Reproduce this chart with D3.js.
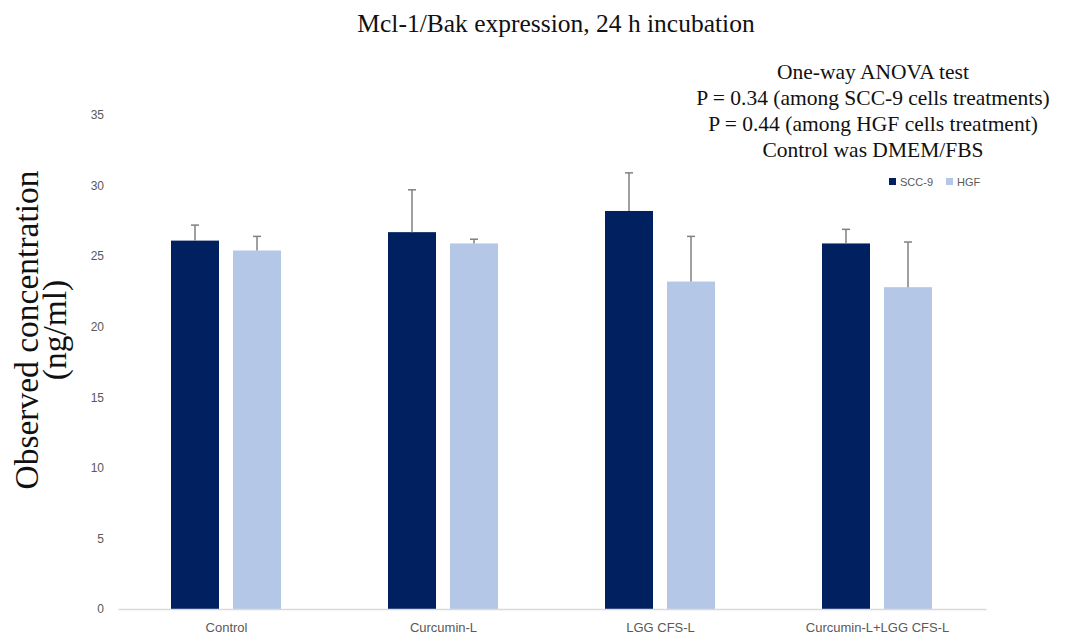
<!DOCTYPE html>
<html>
<head>
<meta charset="utf-8">
<script src="https://cdn.jsdelivr.net/npm/d3@7"></script>
<style>
  html, body { margin: 0; padding: 0; background: #fff; }
  svg { display: block; }
</style>
</head>
<body>
<svg id="chart" width="1065" height="635"></svg>
<script>
// Treatment groups and measured means / upper error values (ng/ml)
const categories = ["Control", "Curcumin-L", "LGG CFS-L", "Curcumin-L+LGG CFS-L"];
const seriesNames = ["SCC-9", "HGF"];
const scc9Values = [26.1, 26.7, 28.2, 25.9];
const scc9Errors = [1.1, 3.0, 2.7, 1.0];
const hgfValues = [25.4, 25.9, 23.2, 22.8];
const hgfErrors = [1.0, 0.3, 3.2, 3.2];
const yTicks = [0, 5, 10, 15, 20, 25, 30, 35];
const annotationLines = [
  "One-way ANOVA test",
  "P = 0.34 (among SCC-9 cells treatments)",
  "P = 0.44 (among HGF cells treatment)",
  "Control was DMEM/FBS"
];
const colors = ["#002060", "#b4c7e7"];

const svg = d3.select("#chart");
const plot = { left: 118, right: 986, top: 115, bottom: 609 };

const x = d3.scaleBand().domain(categories).range([plot.left, plot.right]).paddingInner(0).paddingOuter(0);
const xs = d3.scaleBand().domain(seriesNames).range([53, 163]).paddingInner(0.226).paddingOuter(0);
const y = d3.scaleLinear().domain([0, 35]).range([plot.bottom, plot.top]);

const series = [
  { name: "SCC-9", values: scc9Values, errors: scc9Errors },
  { name: "HGF", values: hgfValues, errors: hgfErrors }
];

// Y tick labels (no axis line, no gridlines)
const yAxis = svg.append("g")
  .attr("transform", `translate(${plot.left - 14},0)`)
  .call(d3.axisLeft(y).tickValues(yTicks).tickSize(0).tickPadding(0));
yAxis.select(".domain").remove();
yAxis.selectAll("text")
  .attr("fill", "#595959")
  .style("font-family", "'Liberation Sans', 'Open Sans', sans-serif")
  .style("font-size", "12px");

// Bars and error bars
series.forEach((s, si) => {
  const g = svg.append("g");
  g.selectAll("rect")
    .data(categories)
    .join("rect")
    .attr("x", c => x(c) + xs(s.name))
    .attr("width", xs.bandwidth())
    .attr("y", (c, i) => y(s.values[i]))
    .attr("height", (c, i) => y(0) - y(s.values[i]))
    .attr("fill", colors[si]);

  const eg = svg.append("g").attr("stroke", "#808080").attr("stroke-width", 1.5);
  categories.forEach((c, i) => {
    const cx = x(c) + xs(s.name) + xs.bandwidth() / 2;
    eg.append("line")
      .attr("x1", cx).attr("x2", cx)
      .attr("y1", y(s.values[i])).attr("y2", y(s.values[i] + s.errors[i]));
    eg.append("line")
      .attr("x1", cx - 4).attr("x2", cx + 4)
      .attr("y1", y(s.values[i] + s.errors[i])).attr("y2", y(s.values[i] + s.errors[i]));
  });
});

// Category axis baseline
const xAxis = svg.append("g")
  .attr("transform", `translate(0,${plot.bottom})`)
  .call(d3.axisBottom(x).tickSize(0).tickPadding(14));
xAxis.select(".domain").attr("stroke", "#d9d9d9").attr("stroke-width", 1.5);
xAxis.selectAll("text")
  .attr("fill", "#595959")
  .style("font-family", "'Liberation Sans', 'Open Sans', sans-serif")
  .style("font-size", "13px");

// Title
svg.append("text")
  .attr("x", 556).attr("y", 32)
  .attr("text-anchor", "middle")
  .style("font-family", "'Liberation Serif', 'DejaVu Serif', serif")
  .style("font-size", "25.5px")
  .attr("fill", "#111")
  .text("Mcl-1/Bak expression, 24 h incubation");

// Statistical annotation
svg.append("g").selectAll("text")
  .data(annotationLines)
  .join("text")
  .attr("x", 873)
  .attr("y", (d, i) => 79 + i * 26)
  .attr("text-anchor", "middle")
  .style("font-family", "'Liberation Serif', 'DejaVu Serif', serif")
  .style("font-size", "21.5px")
  .attr("fill", "#111")
  .text(d => d);

// Legend
const legend = svg.append("g").attr("transform", "translate(889,182)");
const legendOffsets = [0, 57];
seriesNames.forEach((n, i) => {
  const lg = legend.append("g").attr("transform", `translate(${legendOffsets[i]},0)`);
  lg.append("rect").attr("x", 0).attr("y", -4).attr("width", 7).attr("height", 7).attr("fill", colors[i]);
  lg.append("text")
    .attr("x", 11).attr("y", 4)
    .attr("fill", "#595959")
    .style("font-family", "'Liberation Sans', 'Open Sans', sans-serif")
    .style("font-size", "11px")
    .text(n);
});

// Y axis title (two lines, rotated)
const yTitle = svg.append("text")
  .attr("transform", "rotate(-90)")
  .attr("text-anchor", "middle")
  .style("font-family", "'Liberation Serif', 'DejaVu Serif', serif")
  .style("font-size", "33.5px")
  .attr("fill", "#111");
yTitle.append("tspan").attr("x", -330).attr("y", 38).text("Observed concentration");
yTitle.append("tspan").attr("x", -330).attr("y", 66).text("(ng/ml)");
</script>
</body>
</html>
